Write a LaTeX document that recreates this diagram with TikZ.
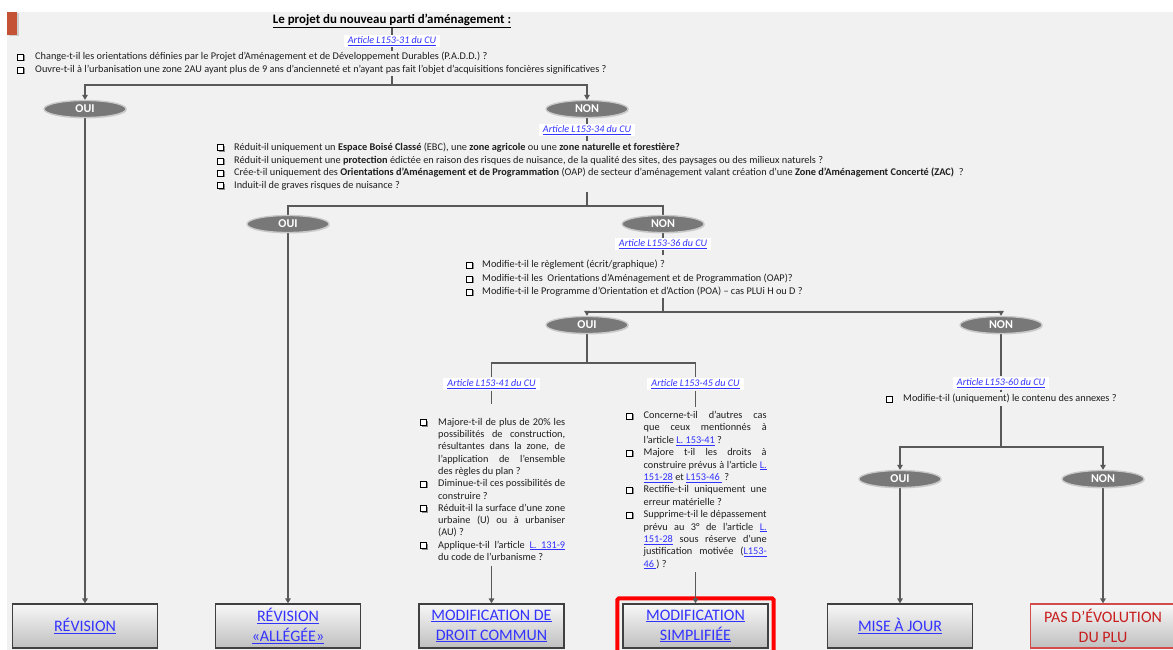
\documentclass[tikz,border=0pt]{standalone}
\usepackage{fontspec}
\setmainfont{Carlito}
\usetikzlibrary{arrows.meta,shadows,shapes.geometric,calc}
\definecolor{bg}{RGB}{241,241,241}
\definecolor{ln}{RGB}{89,89,89}
\definecolor{ell}{RGB}{120,120,120}
\definecolor{rim}{RGB}{200,200,200}
\definecolor{lnk}{RGB}{51,51,255}
\definecolor{txt}{RGB}{30,30,30}
\definecolor{tab}{RGB}{196,82,52}
\definecolor{pasred}{RGB}{200,30,30}
\newcommand\lk[1]{\textcolor{lnk}{\underline{#1}}}
\newcommand\Ja[1]{\makebox[127pt][s]{#1}}
\newcommand\Jb[1]{\makebox[123pt][s]{#1}}
\pgfdeclarelayer{back}
\pgfdeclarelayer{lines}
\pgfsetlayers{back,lines,main}
\begin{document}
\begin{tikzpicture}[x=1pt,y=-1pt,
  cn/.style={draw=ln,line width=1.5pt},
  arr/.style={cn,-{Triangle[width=5.5pt,length=5pt]}},
  ql/.style={anchor=west,inner sep=0pt,font=\fontsize{10.3}{12}\selectfont,text=txt,text height=7pt,text depth=2pt},
  chk/.style={draw=black,fill=white,line width=0.9pt,minimum size=6pt,inner sep=0pt,
    drop shadow={shadow xshift=1.1pt,shadow yshift=-1.1pt,opacity=0.9}},
  art/.style={fill=white,inner xsep=4pt,inner ysep=1.8pt,font=\fontsize{10.1}{11}\selectfont\itshape,text=lnk},
  yn/.style={ellipse,minimum width=82pt,minimum height=17pt,inner sep=0pt,fill=ell,draw=rim,line width=1.3pt,
    text=white,font=\fontsize{12}{12}\selectfont\bfseries,
    drop shadow={shadow xshift=0.8pt,shadow yshift=-1pt,opacity=0.25}},
  res/.style={rectangle,minimum width=145pt,minimum height=44pt,inner sep=0pt,top color=black!3,bottom color=black!25,
    draw=black!75,line width=1.2pt,align=center,font=\fontsize{16}{20}\selectfont,text=lnk,
    drop shadow={shadow xshift=0.8pt,shadow yshift=-1pt,opacity=0.3}}
]
\useasboundingbox (0,0) rectangle (1173,650);
\begin{pgfonlayer}{back}
\fill[white] (0,0) rectangle (1173,650);
\fill[bg] (7,12) rectangle (1173,650);
\fill[tab,drop shadow={shadow xshift=1.5pt,shadow yshift=-1.5pt,opacity=0.3}] (7,12) rectangle (17,35);
\end{pgfonlayer}

% title and first question
\node[inner sep=0pt] (title) at (392,21) {\fontsize{12.9}{14}\selectfont\bfseries\underline{Le projet du nouveau parti d’aménagement :}};
\node[art] (art1) at (392,41) {\underline{Article L153-31 du CU}};
\node[chk] (c1a) at (20.5,57) {};
\node[ql] (q1a) at (35,57) {Change-t-il les orientations définies par le Projet d’Aménagement et de Développement Durables (P.A.D.D.) ?};
\node[chk] (c1b) at (20.5,70) {};
\node[ql] (q1b) at (35,70) {Ouvre-t-il à l’urbanisation une zone 2AU ayant plus de 9 ans d’ancienneté et n’ayant pas fait l’objet d’acquisitions foncières significatives ?};
\coordinate (q1top) at (392,51);
\coordinate (q1bot) at (392,76);
\coordinate (j1) at (392,85);
\node[yn] (oui1) at (85,109) {OUI};
\node[yn] (non1) at (587,109) {NON};

% second question
\node[art] (art2) at (587,130) {\underline{Article L153-34 du CU}};
\node[chk] (c2a) at (220.5,147.7) {};
\node[ql] (q2a) at (234,147.7) {Réduit-il uniquement un \textbf{Espace Boisé Classé} (EBC), une \textbf{zone agricole} ou une \textbf{zone naturelle et forestière?}};
\node[chk] (c2b) at (220.5,161) {};
\node[ql] (q2b) at (234,161) {Réduit-il uniquement une \textbf{protection} édictée en raison des risques de nuisance, de la qualité des sites, des paysages ou des milieux naturels ?};
\node[chk] (c2c) at (220.5,173.3) {};
\node[ql] (q2c) at (234,173.3) {Crée-t-il uniquement des \textbf{Orientations d’Aménagement et de Programmation} (OAP) de secteur d’aménagement valant création d’une \textbf{Zone d’Aménagement Concerté (ZAC)}\ \ ?};
\node[chk] (c2d) at (220.5,185.7) {};
\node[ql] (q2d) at (234,185.7) {Induit-il de graves risques de nuisance ?};
\coordinate (q2top) at (587,141);
\coordinate (q2bot) at (587,192);
\coordinate (j2) at (587,206);
\node[yn] (oui2) at (288,224) {OUI};
\node[yn] (non2) at (663,224) {NON};

% third question
\node[art] (art3) at (663,244) {\underline{Article L153-36 du CU}};
\node[chk] (c3a) at (469.5,265) {};
\node[ql] (q3a) at (482,265) {Modifie-t-il le règlement (écrit/graphique) ?};
\node[chk] (c3b) at (469.5,279) {};
\node[ql] (q3b) at (482,279) {Modifie-t-il les\ \ Orientations d’Aménagement et de Programmation (OAP)?};
\node[chk] (c3c) at (469.5,292) {};
\node[ql] (q3c) at (482,292) {Modifie-t-il le Programme d’Orientation et d’Action (POA) – cas PLUi H ou D ?};
\coordinate (q3top) at (663,255);
\coordinate (q3bot) at (663,298);
\coordinate (j3) at (663,312);
\node[yn] (oui3) at (587,325) {OUI};
\node[yn] (non3) at (1001,325) {NON};

% OUI branch articles
\coordinate (j4) at (587,363);
\node[art] (art41) at (491.5,384) {\underline{Article L153-41 du CU}};
\node[art] (art45) at (695.5,384) {\underline{Article L153-45 du CU}};

% block L153-41
\node[chk] (c41a) at (423.7,422.7) {};
\node[ql] (b41l0) at (438,422.7) {\Ja{Majore-t-il de plus de 20\% les}};
\node[ql] (b41l1) at (438,435.0) {\Ja{possibilités de construction,}};
\node[ql] (b41l2) at (438,447.3) {\Ja{résultantes dans la zone, de}};
\node[ql] (b41l3) at (438,459.6) {\Ja{l’application de l’ensemble}};
\node[ql] (b41l4) at (438,471.9) {des règles du plan ?};
\node[chk] (c41b) at (423.7,484.2) {};
\node[ql] (b41l5) at (438,484.2) {\Ja{Diminue-t-il ces possibilités de}};
\node[ql] (b41l6) at (438,496.5) {construire ?};
\node[chk] (c41c) at (423.7,508.8) {};
\node[ql] (b41l7) at (438,508.8) {\Ja{Réduit-il la surface d’une zone}};
\node[ql] (b41l8) at (438,521.1) {\Ja{urbaine (U) ou à urbaniser}};
\node[ql] (b41l9) at (438,533.4) {(AU) ?};
\node[chk] (c41d) at (423.7,545.7) {};
\node[ql] (b41l10) at (438,545.7) {\Ja{Applique-t-il l’article \lk{L.\ \ 131-9}}};
\node[ql] (b41l11) at (438,558.0) {du code de l’urbanisme ?};
\coordinate (b41top) at (491.5,404);
\coordinate (b41bot) at (491.5,566);

% block L153-45
\node[chk] (c45a) at (629.7,416) {};
\node[ql] (b45l0) at (643.5,416.0) {\Jb{Concerne-t-il d’autres cas}};
\node[ql] (b45l1) at (643.5,428.4) {\Jb{que ceux mentionnés à}};
\node[ql] (b45l2) at (643.5,440.8) {l’article \lk{L. 153-41} ?};
\node[chk] (c45b) at (629.7,453.2) {};
\node[ql] (b45l3) at (643.5,453.2) {\Jb{Majore t-il les droits à}};
\node[ql] (b45l4) at (643.5,465.6) {\Jb{construire prévus à l’article \lk{L.}}};
\node[ql] (b45l5) at (643.5,478.0) {\lk{151-28} et \lk{L153-46 } ?};
\node[chk] (c45c) at (629.7,490.3) {};
\node[ql] (b45l6) at (643.5,490.3) {\Jb{Rectifie-t-il uniquement une}};
\node[ql] (b45l7) at (643.5,502.7) {erreur matérielle ?};
\node[chk] (c45d) at (629.7,515.1) {};
\node[ql] (b45l8) at (643.5,515.1) {\Jb{Supprime-t-il le dépassement}};
\node[ql] (b45l9) at (643.5,527.5) {\Jb{prévu au 3° de l’article \lk{L.}}};
\node[ql] (b45l10) at (643.5,539.9) {\Jb{\lk{151-28} sous réserve d’une}};
\node[ql] (b45l11) at (643.5,552.3) {\Jb{justification motivée (\lk{L153-}}};
\node[ql] (b45l12) at (643.5,564.7) {\lk{46 }) ?};
\coordinate (b45top) at (695.5,407);
\coordinate (b45bot) at (695.5,572);

% NON branch
\node[art] (art60) at (1001,383) {\underline{Article L153-60 du CU}};
\node[chk] (c4a) at (889,399) {};
\node[ql] (q4a) at (903,399) {Modifie-t-il (uniquement) le contenu des annexes ?};
\coordinate (q4top) at (1001,392);
\coordinate (q4bot) at (1001,406);
\coordinate (j5) at (1001,447);
\node[yn] (oui4) at (900,479) {OUI};
\node[yn] (non4) at (1103,479) {NON};

% result boxes
\node[res] (rev) at (85,626) {\underline{RÉVISION}};
\node[res] (ral) at (288,626) {\underline{RÉVISION}\\\underline{«ALLÉGÉE»}};
\node[res] (mdc) at (491.5,626) {\underline{MODIFICATION DE}\\\underline{DROIT COMMUN}};
\node[res] (msi) at (695.5,626) {\underline{MODIFICATION}\\\underline{SIMPLIFIÉE}};
\node[res] (mise) at (900,626) {\underline{MISE À JOUR}};
\node[res,draw=pasred!80,text=pasred] (pas) at (1103,626) {PAS D’ÉVOLUTION\\DU PLU};
\draw[red,line width=4pt,rounded corners=1.5pt] ($(msi.south west)+(-5,4)$) rectangle ($(msi.north east)+(5,-5)$);

% connectors
\begin{pgfonlayer}{lines}
\draw[cn] (title.south) -- (q1top);
\draw[cn] (q1bot) -- (j1);
\draw[arr] (j1) -| (oui1.north);
\draw[arr] (j1) -| (non1.north);
\draw[arr] (oui1.south) -- (rev.north);
\draw[cn] (non1.south) -- (q2top);
\draw[cn] (q2bot) -- (j2);
\draw[cn] (j2) -| (oui2.north);
\draw[cn] (j2) -| (non2.north);
\draw[arr] (oui2.south) -- (ral.north);
\draw[cn] (non2.south) -- (q3top);
\draw[cn] (q3bot) -- (j3);
\draw[arr] (j3) -| (oui3.north);
\draw[arr] (j3) -| (non3.north);
\draw[cn] (oui3.south) -- (j4);
\draw[cn] (j4) -| (art41.north);
\draw[cn] (j4) -| (art45.north);
\draw[cn] (art41.south) -- (b41top);
\draw[arr] (b41bot) -- (mdc.north);
\draw[cn] (art45.south) -- (b45top);
\draw[cn] (non3.south) -- (art60.north);
\draw[cn] (art60.south) -- (q4top);
\draw[cn] (q4bot) -- (j5);
\draw[arr] (j5) -| (oui4.north);
\draw[arr] (j5) -| (non4.north);
\draw[arr] (oui4.south) -- (mise.north);
\draw[arr] (non4.south) -- (pas.north);
\end{pgfonlayer}
\draw[arr] (b45bot) -- (msi.north);
\end{tikzpicture}
\end{document}
